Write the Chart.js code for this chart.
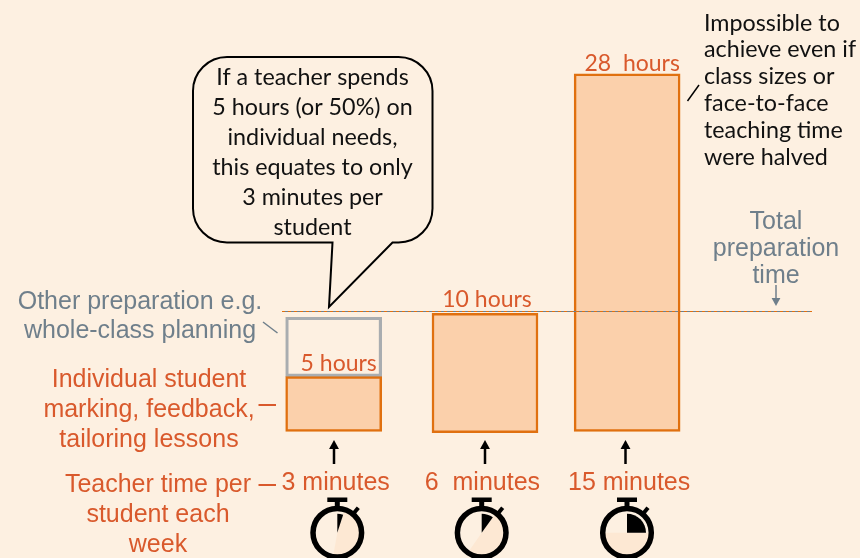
<!DOCTYPE html>
<html>
<head>
<meta charset="utf-8">
<title>Teacher preparation time</title>
<script src="https://cdn.jsdelivr.net/npm/chart.js@4"></script>
<style>
  html, body { margin: 0; padding: 0; background: #fdf0e1; }
  canvas { display: block; }
</style>
</head>
<body>
<canvas id="prep" width="860" height="558"></canvas>
<script>
// minutes per student, one per bar
var minuteLabels = ['3 minutes', '6  minutes', '15 minutes'];
var minuteValues = [3, 6, 15];
var hourLabels = ['5 hours', '10 hours', '28  hours'];
// heights as drawn in the picture, the bars are not quite to scale
var individualHours = [4.57, 9.85, 29.8];
var otherHours = [4.95, null, null];
var totalPreparation = 10;

var calloutLines = ['If a teacher spends', '5 hours (or 50%) on', 'individual needs,', 'this equates to only', '3 minutes per', 'student'];
var impossibleLines = ['Impossible to', 'achieve even if', 'class sizes or', 'face-to-face', 'teaching time', 'were halved'];
var totalLines = ['Total', 'preparation', 'time'];
var otherLines = ['Other preparation e.g.', 'whole-class planning'];
var individualLines = ['Individual student', 'marking, feedback,', 'tailoring lessons'];
var perStudentLines = ['Teacher time per', 'student each', 'week'];

//Colors
var orangeText = '#d9592c';
var orangeLine = '#e0700f';
var orangeFill = '#fbd0ab';
var grayText = '#6f7f8b';
var paleFill = '#fde8d3';
var sans = '"Liberation Sans"';
var calibriLike = 'Lato';

function textBlock(ctx, lines, x, y, pitch, font, color, align) {
    ctx.font = font;
    ctx.fillStyle = color;
    ctx.textAlign = align;
    ctx.textBaseline = 'middle';
    for (var i = 0; i < lines.length; i++) {
        ctx.fillText(lines[i], x, y + i * pitch);
    }
}

function line(ctx, x1, y1, x2, y2, color, width) {
    ctx.strokeStyle = color;
    ctx.lineWidth = width;
    ctx.beginPath();
    ctx.moveTo(x1, y1);
    ctx.lineTo(x2, y2);
    ctx.stroke();
}

function arrow(ctx, x, tail, tip, color, width, head) {
    var dir = tip > tail ? 1 : -1;
    line(ctx, x, tail, x, tip - dir * head, color, width);
    ctx.fillStyle = color;
    ctx.beginPath();
    ctx.moveTo(x, tip);
    ctx.lineTo(x - head * 0.55, tip - dir * head);
    ctx.lineTo(x + head * 0.55, tip - dir * head);
    ctx.closePath();
    ctx.fill();
}

function drawCallout(ctx) {
    var l = 193, r = 432.5, t = 57, b = 242.5, rad = 34;
    ctx.beginPath();
    ctx.moveTo(l + rad, t);
    ctx.arcTo(r, t, r, b, rad);
    ctx.arcTo(r, b, l, b, rad);
    ctx.lineTo(392.5, b);
    ctx.lineTo(329, 307);
    ctx.lineTo(332.5, b);
    ctx.arcTo(l, b, l, t, rad);
    ctx.arcTo(l, t, r, t, rad);
    ctx.closePath();
    ctx.strokeStyle = '#000';
    ctx.lineWidth = 2;
    ctx.lineJoin = 'miter';
    ctx.stroke();
    textBlock(ctx, calloutLines, 312.5, 77, 30, '23.3px ' + calibriLike, '#111', 'center');
}

function drawStopwatch(ctx, cx, cy, minutes, paleEnd) {
    var top = -Math.PI / 2;
    var end = top + minutes / 60 * Math.PI * 2;
    ctx.fillStyle = paleFill;
    ctx.beginPath();
    ctx.moveTo(cx, cy);
    ctx.arc(cx, cy, 22.5, end, top + paleEnd * Math.PI / 180);
    ctx.closePath();
    ctx.fill();
    ctx.fillStyle = '#000';
    ctx.beginPath();
    ctx.moveTo(cx, cy);
    ctx.arc(cx, cy, 19, top, end);
    ctx.closePath();
    ctx.fill();
    ctx.strokeStyle = '#000';
    ctx.lineWidth = 5.5;
    ctx.beginPath();
    ctx.arc(cx, cy, 24.3, 0, Math.PI * 2);
    ctx.stroke();
    ctx.fillRect(cx - 10, 497.5, 20, 4.5);
    ctx.fillRect(cx - 2.5, 501, 5, 7);
    line(ctx, cx + 16, cy - 19, cx + 21, cy - 25, '#000', 4);
}

var annotations = {
    id: 'annotations',
    afterDatasetsUpdate: function (chart) {
        // the middle bar sits a little right of its slot and a little lower,
        // the first one is narrower
        var first = chart.getDatasetMeta(0).data;
        var second = chart.getDatasetMeta(1).data;
        first[1].x += 4.6;
        first[1].base += 1.2;
        first[0].width = 96;
        second[0].width = 96;
    },
    afterDatasetsDraw: function (chart) {
        var ctx = chart.ctx;
        var bars = chart.getDatasetMeta(0).data;
        var yTotal = chart.scales.y.getPixelForValue(totalPreparation);
        var labelX = [5, 2, 5];
        var labelY = [13.5, 14, 10];
        ctx.save();

        // total preparation line, orange and grey dashes in turn
        ctx.setLineDash([3, 3]);
        line(ctx, 282, yTotal, 812, yTotal, orangeLine, 1);
        ctx.lineDashOffset = 3;
        line(ctx, 282, yTotal, 812, yTotal, grayText, 1);
        ctx.setLineDash([]);

        for (var i = 0; i < bars.length; i++) {
            textBlock(ctx, [hourLabels[i]], bars[i].x + labelX[i], bars[i].y - labelY[i], 0, '23px ' + calibriLike, orangeText, 'center');
        }

        drawCallout(ctx);

        textBlock(ctx, impossibleLines, 704, 23, 26.8, '23.3px ' + calibriLike, '#111', 'left');
        line(ctx, 687.5, 101, 699, 85, '#000', 1.5);

        textBlock(ctx, totalLines, 776, 222, 27, '25px ' + sans, grayText, 'center');
        arrow(ctx, 776, 285, 306, grayText, 1.5, 8);

        textBlock(ctx, otherLines, 140, 302, 29, '25px ' + sans, grayText, 'center');
        line(ctx, 263, 322, 277.5, 333, grayText, 1.5);

        textBlock(ctx, individualLines, 149, 380, 30, '25px ' + sans, orangeText, 'center');
        line(ctx, 258.5, 405, 276, 405, orangeText, 2);

        textBlock(ctx, perStudentLines, 158, 485, 30, '25px ' + sans, orangeText, 'center');
        line(ctx, 258.5, 485, 276, 485, orangeText, 2);

        arrow(ctx, 334, 464, 440, '#000', 2.5, 9);
        arrow(ctx, 485, 464, 440, '#000', 2.5, 9);
        arrow(ctx, 625.5, 464, 440, '#000', 2.5, 9);

        drawStopwatch(ctx, 337.3, 532.7, minuteValues[0], 190);
        drawStopwatch(ctx, 481.7, 532.7, minuteValues[1], 215);
        drawStopwatch(ctx, 627, 532.7, minuteValues[2], 270);

        ctx.restore();
    }
};

new Chart(document.getElementById('prep'), {
    type: 'bar',
    data: {
        labels: minuteLabels,
        datasets: [{
            label: 'Individual student marking, feedback, tailoring lessons',
            data: individualHours,
            backgroundColor: orangeFill,
            borderColor: orangeLine,
            borderWidth: 2.5,
            borderSkipped: false,
            clip: false,
            barThickness: 106
        }, {
            label: 'Other preparation',
            data: otherHours,
            backgroundColor: 'rgba(0,0,0,0)',
            borderColor: '#a9adb0',
            borderWidth: 2.5,
            borderSkipped: false,
            clip: false,
            barThickness: 106
        }]
    },
    plugins: [annotations],
    options: {
        responsive: false,
        animation: false,
        layout: { padding: { left: 260.3, right: 159.5, top: 40, bottom: 0 } },
        plugins: { legend: { display: false }, tooltip: { enabled: false } },
        scales: {
            x: {
                stacked: true,
                border: { display: false },
                grid: { display: false, drawTicks: false },
                afterFit: function (scale) { scale.height = 126.5; },
                ticks: {
                    autoSkip: false,
                    maxRotation: 0,
                    minRotation: 0,
                    padding: 36.5,
                    labelOffset: 2,
                    color: orangeText,
                    font: { family: sans, size: 25 }
                }
            },
            y: {
                display: false,
                stacked: true,
                min: 0,
                max: 32.625
            }
        }
    }
});
</script>
</body>
</html>
